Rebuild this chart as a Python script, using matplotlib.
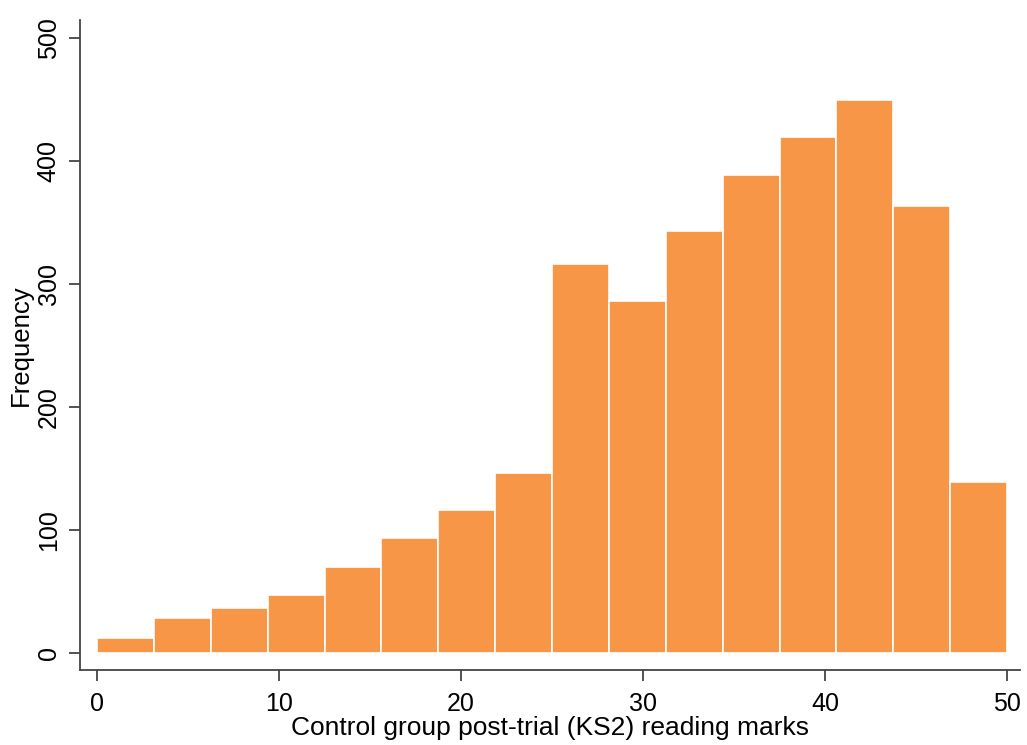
import numpy as np
import matplotlib.pyplot as plt

plt.rcParams["font.family"] = ["Liberation Sans", "DejaVu Sans"]

# histogram: 16 equal bins between 0 and 50
bin_lo = 0
bin_hi = 50
n_bins = 16
counts = [12, 28, 36, 47, 70, 93, 116, 146, 316, 286, 343, 388, 419, 449, 363, 139]

xticks = [0, 10, 20, 30, 40, 50]
yticks = [0, 100, 200, 300, 400, 500]


def main():
    edges = np.linspace(bin_lo, bin_hi, n_bins + 1)
    widths = np.diff(edges)

    fig = plt.figure(figsize=(10.27, 7.45), dpi=100)
    ax = fig.add_axes([0.078, 0.1007, 0.915, 0.872])

    ax.bar(edges[:-1], counts, width=widths, align="edge",
           color="#F79646", edgecolor="white", linewidth=1.2)

    ax.set_xlim(-0.93, 50.7)
    ax.set_ylim(-14, 514)
    for s in ["top", "right"]:
        ax.spines[s].set_visible(False)
    for s in ["left", "bottom"]:
        ax.spines[s].set_color("#444444")
        ax.spines[s].set_linewidth(1.3)

    ax.set_xticks(xticks)
    ax.set_yticks(yticks)
    ax.tick_params(axis="both", length=8, width=1.3, color="#444444",
                   labelsize=18)
    ax.tick_params(axis="x", pad=8)
    ax.tick_params(axis="y", pad=6)
    for lab in ax.get_yticklabels():
        lab.set_rotation(90)
        lab.set_va("center")

    ax.set_xlabel("Control group post-trial (KS2) reading marks", fontsize=19, labelpad=0)
    ax.set_ylabel("Frequency", fontsize=18.5, labelpad=3)

    fig.savefig("out.png", dpi=100)


if __name__ == "__main__":
    main()
